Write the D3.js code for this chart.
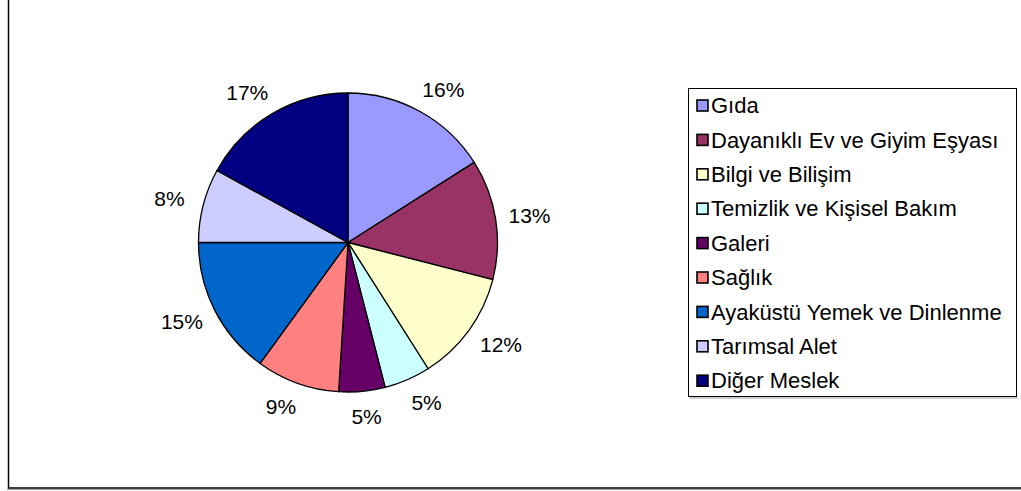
<!DOCTYPE html>
<html>
<head>
<meta charset="utf-8">
<script src="https://cdn.jsdelivr.net/npm/d3@7"></script>
<style>
  html, body { margin: 0; padding: 0; background: #fff; }
  svg { display: block; }
  text { font-family: "Liberation Sans", Arial, sans-serif; fill: #000; }
</style>
</head>
<body>
<svg id="chart" width="1021" height="491"></svg>
<script>
// ---- data ----
const categories = [
  "Gıda",
  "Dayanıklı Ev ve Giyim Eşyası",
  "Bilgi ve Bilişim",
  "Temizlik ve Kişisel Bakım",
  "Galeri",
  "Sağlık",
  "Ayaküstü Yemek ve Dinlenme",
  "Tarımsal Alet",
  "Diğer Meslek"
];
const values = [16, 13, 12, 5, 5, 9, 15, 8, 17];
const colors = ["#9999FF", "#993366", "#FFFFCC", "#CCFFFF", "#660066", "#FF8080", "#0066CC", "#CCCCFF", "#000080"];

// ---- layout ----
const svg = d3.select("#chart");
const cx = 348, cy = 242.5, R = 149.5;

// outer chart border (top/right are outside the visible area)
svg.append("rect")
  .attr("x", 8.5).attr("y", -20)
  .attr("width", 1040).attr("height", 508)
  .attr("fill", "none").attr("stroke", "#000").attr("stroke-width", 1.5);
svg.append("line").attr("x1", 7).attr("x2", 1021).attr("y1", 489.5).attr("y2", 489.5)
  .attr("stroke", "#999").attr("stroke-width", 1);

const total = d3.sum(values);
const pie = d3.pie().sort(null).value(d => d)(values);
const arc = d3.arc().innerRadius(0).outerRadius(R);

const g = svg.append("g").attr("transform", `translate(${cx},${cy})`);
g.selectAll("path.slice")
  .data(pie)
  .join("path")
  .attr("class", "slice")
  .attr("d", arc)
  .attr("fill", (d, i) => colors[i])
  .attr("stroke", "#000")
  .attr("stroke-width", 1.3)
  .attr("stroke-linejoin", "round");

// labels outside
const fmt = d3.format(".0%");
const rl = R + 10, hw = 24, hh = 15;
g.selectAll("text.lbl")
  .data(pie)
  .join("text")
  .attr("class", "lbl")
  .attr("x", d => {
    const a = (d.startAngle + d.endAngle) / 2;
    const s = Math.sin(a);
    return rl * s + hw * Math.sign(s) * Math.min(1, Math.abs(s) * 1.6);
  })
  .attr("y", d => {
    const a = (d.startAngle + d.endAngle) / 2;
    return -rl * Math.cos(a) - hh * Math.cos(a);
  })
  .attr("dy", "0.35em")
  .attr("text-anchor", "middle")
  .style("font-size", "21px")
  .text(d => fmt(d.data / total));

// legend
const lx = 688.5, ly = 88.5, lw = 328, lh = 308;
svg.append("line").attr("x1", lx + 1).attr("x2", lx + lw + 1).attr("y1", ly + lh + 1.5).attr("y2", ly + lh + 1.5)
  .attr("stroke", "#999").attr("stroke-width", 1);
svg.append("rect")
  .attr("x", lx).attr("y", ly).attr("width", lw).attr("height", lh)
  .attr("fill", "#fff").attr("stroke", "#000").attr("stroke-width", 1);

const ly0 = 105.5, lstep = 34.4;
const items = svg.append("g").selectAll("g")
  .data(categories)
  .join("g")
  .attr("transform", (d, i) => `translate(0,${ly0 + i * lstep})`);
items.append("rect")
  .attr("x", 697).attr("y", -5.5)
  .attr("width", 11).attr("height", 11)
  .attr("fill", (d, i) => colors[i])
  .attr("stroke", "#000").attr("stroke-width", 1.6);
items.append("text")
  .attr("x", 711).attr("y", 0).attr("dy", "0.35em")
  .style("font-size", "22px")
  .text(d => d);
</script>
</body>
</html>
